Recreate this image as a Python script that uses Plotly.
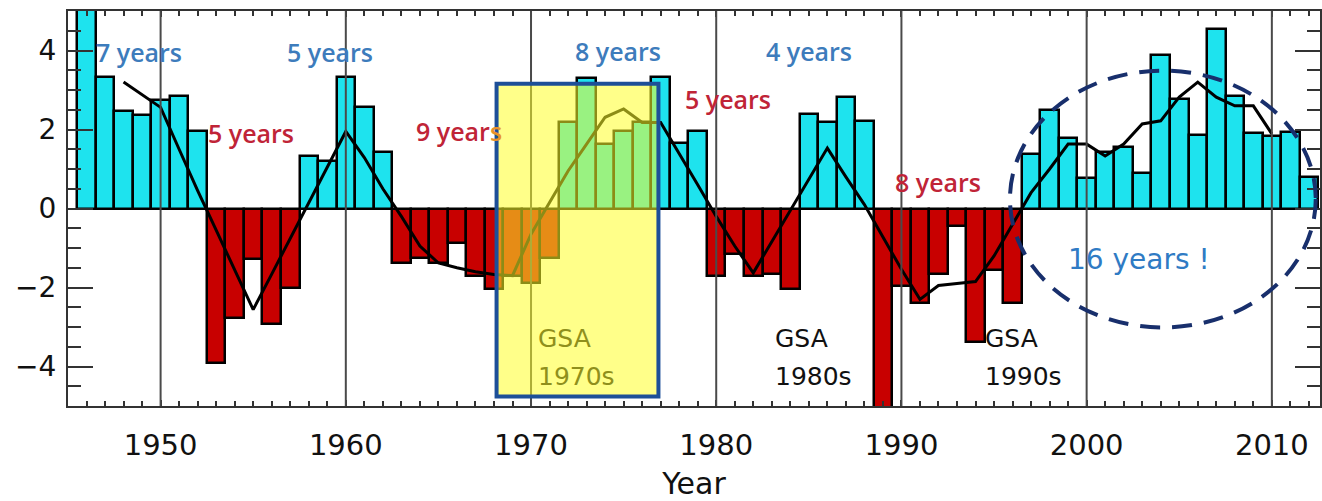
import plotly.graph_objects as go

# Yearly anomaly values (bars), 1946-2012
years = list(range(1946, 2013))
anomaly = [
    5.4, 3.34, 2.48, 2.37, 2.75, 2.84, 1.97,                     # 1946-1952
    -3.92, -2.77, -1.29, -2.93, -2.0,                            # 1953-1957
    1.33, 1.21, 3.32, 2.58, 1.42,                                # 1958-1962
    -1.38, -1.25, -1.38, -0.87, -1.72, -2.03, -1.72, -1.89, -1.25,  # 1963-1971
    2.18, 3.31, 1.63, 1.97, 2.18, 3.32, 1.67, 1.97,              # 1972-1979
    -1.72, -1.16, -1.72, -1.67, -2.05,                           # 1980-1984
    2.39, 2.18, 2.83, 2.21,                                      # 1985-1988
    -5.3, -1.95, -2.4, -1.67, -0.44, -3.37, -1.55, -2.39,        # 1989-1996
    1.38, 2.50, 1.78, 0.78, 1.42, 1.55, 0.91, 3.88,              # 1997-2004
    2.77, 1.87, 4.55, 2.86, 1.90, 1.84, 1.93, 0.81,              # 2005-2012
]

# Running mean of the anomaly, 1948-2010
smooth_years = list(range(1948, 2011))
smooth = [
    3.2, 2.88, 2.56, 1.5, 0.45, -0.55, -1.55, -2.56,             # 1948-1955
    -1.66, -0.76, 0.14, 1.05, 1.95,                              # 1956-1960
    1.29, 0.5, -0.2, -0.95, -1.38, -1.5, -1.6, -1.67,            # 1961-1968
    -1.7, -0.65, 0.15, 0.95, 1.63, 2.31, 2.52, 2.18, 2.18,       # 1969-1977
    1.4, 0.6, -0.2, -0.95, -1.63,                                # 1978-1982
    -0.84, -0.05, 0.74, 1.53,                                    # 1983-1986
    0.8, 0.1, -0.72, -1.54, -2.3,                                # 1987-1991
    -1.95, -1.9, -1.85, -1.2, -0.4,                              # 1992-1996
    0.4, 1.0, 1.63, 1.63, 1.33, 1.63, 2.14, 2.22,                # 1997-2004
    2.82, 3.2, 2.82, 2.6, 2.6, 1.89,                             # 2005-2010
]

decade_ticks = [1950, 1960, 1970, 1980, 1990, 2000, 2010]
y_ticks = [-4, -2, 0, 2, 4]

# Period-length labels: (text, x, y, kind)
period_labels = [
    ("7 years", 1948.85, 3.95, "pos"),
    ("5 years", 1954.9, 1.9, "neg"),
    ("5 years", 1959.15, 3.95, "pos"),
    ("9 year<span style='color:#e8922a'>s</span>", 1966.1, 1.95, "neg"),
    ("8 years", 1974.7, 4.0, "pos"),
    ("5 years", 1980.65, 2.76, "neg"),
    ("4 years", 1985.0, 4.0, "pos"),
    ("8 years", 1991.95, 0.67, "neg"),
]

# GSA event labels: (decade text, left x, colour)
gsa_labels = [
    ("1970s", 1970.25, "#8f8f1c"),
    ("1980s", 1983.07, "#111111"),
    ("1990s", 1994.4, "#111111"),
]

CYAN = "#1ee3ee"
RED = "#c80000"
LABEL_BLUE = "#3d7cbc"
LABEL_RED = "#c02437"

fig = go.Figure()

fig.add_trace(go.Bar(
    x=years, y=anomaly, width=1.0,
    marker=dict(color=[CYAN if v >= 0 else RED for v in anomaly],
                line=dict(color="black", width=2.5)),
    showlegend=False, hoverinfo="x+y",
))

fig.add_trace(go.Scatter(
    x=smooth_years, y=smooth, mode="lines",
    line=dict(color="black", width=3),
    showlegend=False,
))

# decade reference lines, drawn over the bars
for d in decade_ticks:
    fig.add_shape(type="line", xref="x", yref="paper", x0=d, x1=d, y0=0, y1=1,
                  line=dict(color="#4a4a4a", width=2), layer="above")

# highlighted GSA 1970s window
fig.add_shape(type="rect", xref="x", yref="y", x0=1968.14, x1=1976.88, y0=-4.76, y1=3.16,
              fillcolor="rgba(255,255,40,0.55)", line=dict(width=0), layer="above")
fig.add_shape(type="rect", xref="x", yref="y", x0=1968.14, x1=1976.88, y0=-4.76, y1=3.16,
              fillcolor="rgba(0,0,0,0)", line=dict(color="#1d4f98", width=4), layer="above")

# dashed ellipse around the recent positive run
fig.add_shape(type="circle", xref="x", yref="y", x0=1995.86, x1=2012.37, y0=-3.01, y1=3.49,
              line=dict(color="#182f6c", width=4, dash="20px,12px"), layer="above")

label_font = dict(family="Open Sans", size=25, weight=600)
for text, x, y, kind in period_labels:
    fig.add_annotation(x=x, y=y, text=text, showarrow=False,
                       font=dict(label_font, color=LABEL_BLUE if kind == "pos" else LABEL_RED))

fig.add_annotation(x=2002.8, y=-1.28, text="16 years !", showarrow=False,
                   font=dict(family="DejaVu Sans", size=28, color="#2f7bc4"))

for decade, x, color in gsa_labels:
    fig.add_annotation(x=x, y=-3.29, text="GSA", showarrow=False, xanchor="left",
                       font=dict(family="DejaVu Sans", size=25, color=color))
    fig.add_annotation(x=x, y=-4.26, text=decade, showarrow=False, xanchor="left",
                       font=dict(family="DejaVu Sans", size=25, color=color))

axis_col = "#333333"
fig.update_xaxes(
    range=[1945.0, 2012.6], tickvals=decade_ticks,
    ticks="inside", ticklen=6, tickwidth=1.5, tickcolor=axis_col,
    minor=dict(dtick=1, tick0=1945, ticks="inside", ticklen=5, tickcolor=axis_col, tickwidth=1.5),
    showline=True, linecolor=axis_col, linewidth=2, mirror="ticks",
    showgrid=False, zeroline=False,
    tickfont=dict(family="DejaVu Sans", size=29, color="#111111"),
    ticklabelstandoff=12,
    title=dict(text="Year", font=dict(family="DejaVu Sans", size=30, color="#111111"), standoff=12),
)
fig.update_yaxes(
    range=[-5, 5], tickvals=y_ticks,
    ticks="inside", ticklen=25, tickwidth=2, tickcolor=axis_col,
    minor=dict(dtick=0.5, tick0=0, ticks="inside", ticklen=13, tickcolor=axis_col, tickwidth=1.5),
    showline=True, linecolor=axis_col, linewidth=2, mirror="ticks",
    showgrid=False, zeroline=False,
    tickfont=dict(family="DejaVu Sans", size=28, color="#111111"),
    ticklabelstandoff=4,
)

fig.update_layout(
    width=1322, height=501,
    margin=dict(l=68, r=0, t=11, b=95),
    plot_bgcolor="white", paper_bgcolor="white",
    bargap=0, showlegend=False,
)

fig.write_html("out.html")
